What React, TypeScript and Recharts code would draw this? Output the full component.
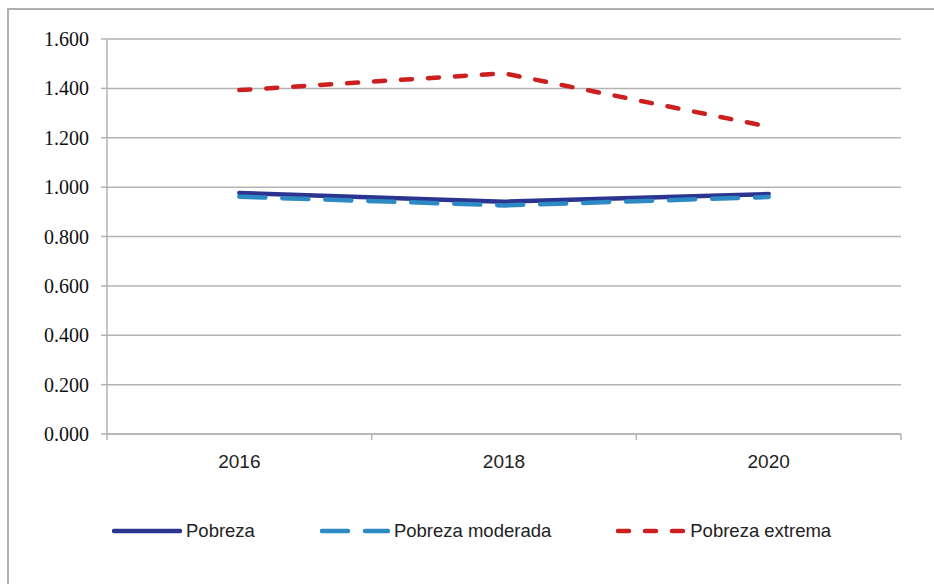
import React from 'react';
import { LineChart, Line, XAxis, YAxis, CartesianGrid } from 'recharts';

const years = ['2016', '2018', '2020'];
const pobreza = [0.976, 0.941, 0.972];
const pobrezaModerada = [0.961, 0.926, 0.96];
const pobrezaExtrema = [1.393, 1.461, 1.245];
const yTicks = [0, 0.2, 0.4, 0.6, 0.8, 1.0, 1.2, 1.4, 1.6];
const xTicks = [0, 0.5, 1, 1.5, 2, 2.5, 3];

const data = years.map((year, i) => ({
    x: i + 0.5,
    year,
    pobreza: pobreza[i],
    moderada: pobrezaModerada[i],
    extrema: pobrezaExtrema[i]
}));

const series = [
    { key: 'pobreza', name: 'Pobreza', color: '#2b3590', dash: undefined },
    { key: 'moderada', name: 'Pobreza moderada', color: '#2e8ac4', dash: '26 17' },
    { key: 'extrema', name: 'Pobreza extrema', color: '#cc1f1f', dash: '11 16' }
];

const GRID = '#b3b3b3';
const SANS = '"Liberation Sans", Arial, sans-serif';
const SERIF = '"Liberation Serif", "Times New Roman", serif';

// ticks at integers are boundary marks, ticks at halves carry the year label
const XTick = (props: any) => {
    const { x, y, payload } = props;
    const v = payload.value;
    if (Number.isInteger(v)) {
        return <line x1={x} y1={y} x2={x} y2={y + 6} stroke={GRID} strokeWidth={1.5} />;
    }
    return (
        <text x={x} y={y + 34} textAnchor="middle" fill="#222" fontFamily={SANS} fontSize={19}>
            {years[Math.floor(v)]}
        </text>
    );
};

const LegendRow = () => (
    <div
        style={{
            position: 'absolute',
            left: 112,
            top: 519,
            display: 'flex',
            gap: 65,
            alignItems: 'center',
            fontFamily: SANS,
            fontSize: 18.5,
            color: '#222'
        }}
    >
        {series.map((s) => (
            <div key={s.key} style={{ display: 'flex', alignItems: 'center' }}>
                <svg width={70} height={24}>
                    <line
                        x1={2}
                        y1={12}
                        x2={68}
                        y2={12}
                        stroke={s.color}
                        strokeWidth={4.5}
                        strokeLinecap="round"
                        strokeDasharray={s.dash}
                    />
                </svg>
                <span style={{ marginLeft: 4 }}>{s.name}</span>
            </div>
        ))}
    </div>
);

export default function App() {
    return (
        <div style={{ position: 'absolute', left: 0, top: 0, width: 934, height: 584, background: '#fff' }}>
            <div
                style={{
                    position: 'absolute',
                    left: 7,
                    top: 8,
                    width: 927,
                    height: 576,
                    boxSizing: 'border-box',
                    borderTop: '2px solid #b0b0b0',
                    borderLeft: '2px solid #b0b0b0'
                }}
            />
            <LineChart
                width={934}
                height={584}
                data={data}
                margin={{ top: 39, right: 33, left: 47, bottom: 90 }}
                style={{ position: 'absolute', left: 0, top: 0 }}
            >
                <CartesianGrid vertical={false} stroke={GRID} strokeWidth={1.5} />
                <XAxis
                    dataKey="x"
                    type="number"
                    domain={[0, 3]}
                    ticks={xTicks}
                    interval={0}
                    height={60}
                    tickSize={0}
                    tickMargin={0}
                    tickLine={false}
                    axisLine={{ stroke: GRID, strokeWidth: 1.5 }}
                    tick={(props: any) => <XTick {...props} />}
                />
                <YAxis
                    width={60}
                    domain={[0, 1.6]}
                    ticks={yTicks}
                    interval={0}
                    tickSize={6}
                    tickMargin={12}
                    axisLine={{ stroke: GRID, strokeWidth: 1.5 }}
                    tickLine={{ stroke: GRID, strokeWidth: 1.5 }}
                    tick={{ fill: '#111', fontFamily: SERIF, fontSize: 20 }}
                    tickFormatter={(v: number) => v.toFixed(3)}
                />
                {series.map((s) => (
                    <Line
                        key={s.key}
                        type="linear"
                        dataKey={s.key}
                        name={s.name}
                        stroke={s.color}
                        strokeWidth={4.5}
                        strokeDasharray={s.dash}
                        strokeLinecap="round"
                        strokeLinejoin="round"
                        dot={false}
                        activeDot={false}
                        isAnimationActive={false}
                    />
                ))}
            </LineChart>
            <LegendRow />
        </div>
    );
}
